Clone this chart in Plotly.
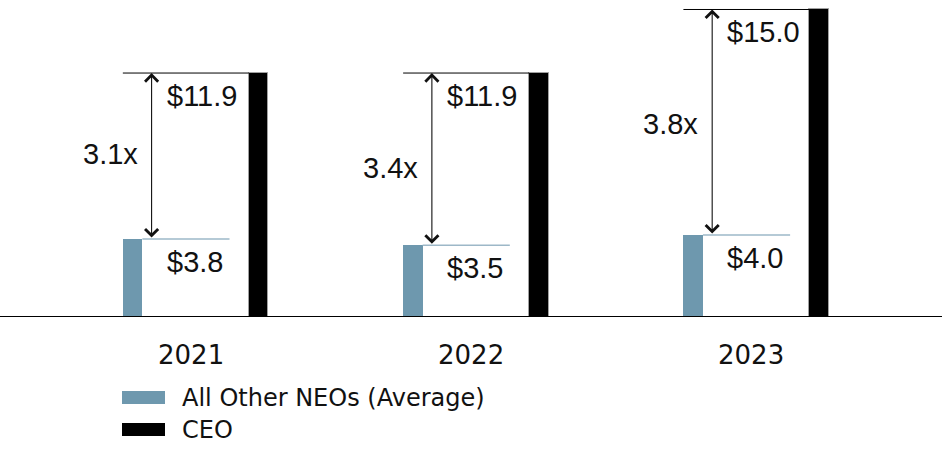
import plotly.graph_objects as go

years = ["2021", "2022", "2023"]
neo_values = [3.8, 3.5, 4.0]
ceo_values = [11.9, 11.9, 15.0]
ratio_labels = ["3.1x", "3.4x", "3.8x"]
series_names = ["All Other NEOs (Average)", "CEO"]

NEO_COLOR = "#6e98ae"
NEO_LINE = "#9db8c8"
CEO_COLOR = "#000000"
TXT = "#111111"

idx = list(range(len(years)))
half = 0.2248
bw = 0.0696

fig = go.Figure()

# reference lines at bar tops
cx, cy, nx, ny = [], [], [], []
for i, c, n in zip(idx, ceo_values, neo_values):
    cx += [i - half - bw / 2, i + half - bw / 2, None]
    cy += [c, c, None]
    nx += [i - half + bw / 2, i + 0.121, None]
    ny += [n, n, None]
fig.add_trace(go.Scatter(x=cx, y=cy, mode="lines", line=dict(color="#000000", width=1),
                         showlegend=False, hoverinfo="skip"))
fig.add_trace(go.Scatter(x=nx, y=ny, mode="lines", line=dict(color=NEO_LINE, width=1.5),
                         showlegend=False, hoverinfo="skip"))

fig.add_trace(go.Bar(x=[i - half for i in idx], y=neo_values, width=bw,
                     marker=dict(color=NEO_COLOR, line=dict(width=0)),
                     name=series_names[0], showlegend=False))
fig.add_trace(go.Bar(x=[i + half for i in idx], y=ceo_values, width=bw,
                     marker=dict(color=CEO_COLOR, line=dict(color="#a0a0a0", width=1)),
                     name=series_names[1], showlegend=False))

ann = []
ratio_shift = [2, -9, -2]
for i, c, n, r, rs in zip(idx, ceo_values, neo_values, ratio_labels, ratio_shift):
    # double-headed arrow
    ann.append(dict(x=i - 0.157, y=c, ax=i - 0.157, ay=n, xref="x", yref="y",
                    axref="x", ayref="y", text="", showarrow=True,
                    arrowhead=4, startarrowhead=4, arrowside="end+start",
                    arrowsize=2.3, startarrowsize=2.3, arrowwidth=1.1,
                    arrowcolor="#111111", standoff=0, startstandoff=0))
    ann.append(dict(x=i - 0.1106, y=c, xref="x", yref="y", text=f"${c:.1f}",
                    showarrow=False, xanchor="left", yanchor="middle", yshift=-23,
                    font=dict(family="Liberation Sans", size=29, color=TXT)))
    ann.append(dict(x=i - 0.1106, y=n, xref="x", yref="y", text=f"${n:.1f}",
                    showarrow=False, xanchor="left", yanchor="middle", yshift=-23,
                    font=dict(family="Liberation Sans", size=29, color=TXT)))
    ann.append(dict(x=i - 0.2, y=(c + n) / 2, xref="x", yref="y", text=r,
                    showarrow=False, xanchor="right", yanchor="middle", yshift=rs,
                    font=dict(family="Liberation Sans", size=29, color=TXT)))
    ann.append(dict(x=i, y=0, xref="x", yref="y", text=years[i], showarrow=False,
                    xanchor="center", yanchor="middle", yshift=-38, xshift=-5,
                    font=dict(family="DejaVu Sans", size=26, color=TXT)))

# legend
H = 317.0
W = 942.0
shapes = []
leg_colors = [NEO_COLOR, CEO_COLOR]
leg_rows = [397.5, 429.5]
for name, col, py in zip(series_names, leg_colors, leg_rows):
    shapes.append(dict(type="rect", xref="paper", yref="paper",
                       x0=122 / W, x1=165 / W, y0=(H - (py - 6.5)) / H, y1=(H - (py + 6.5)) / H,
                       fillcolor=col, line=dict(width=0)))
    ann.append(dict(x=180 / W, y=(H - py) / H, xref="paper", yref="paper", text=name,
                    showarrow=False, xanchor="left", yanchor="middle",
                    font=dict(family="DejaVu Sans", size=24, color=TXT)))

# baseline
shapes.append(dict(type="line", xref="paper", yref="y", x0=0, x1=1, y0=0, y1=0,
                   line=dict(color="#000000", width=2)))

fig.update_layout(
    width=942, height=453,
    margin=dict(l=0, r=0, t=0, b=136),
    paper_bgcolor="white", plot_bgcolor="white",
    xaxis=dict(range=[-0.6978, 2.6629], visible=False, fixedrange=True),
    yaxis=dict(range=[0, 15.463], visible=False, fixedrange=True),
    annotations=ann, shapes=shapes, showlegend=False, bargap=0,
    hovermode=False,
)

fig.write_html("out.html", config={"displayModeBar": False},
               post_script="document.body.style.margin='0px';document.body.style.overflow='hidden';")
